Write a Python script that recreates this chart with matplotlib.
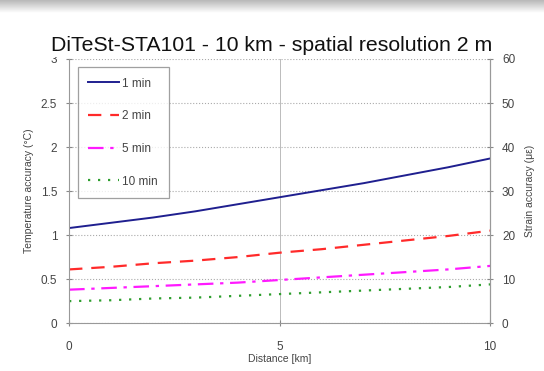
import numpy as np
import matplotlib.pyplot as plt

plt.rcParams['font.family'] = ['Liberation Sans', 'DejaVu Sans']

# Distance along the fibre (km)
distance = [0, 1, 2, 3, 4, 5, 6, 7, 8, 9, 10]

# Temperature accuracy (deg C) for each measuring time
acc_1min = [1.08, 1.14, 1.20, 1.27, 1.35, 1.43, 1.51, 1.59, 1.68, 1.77, 1.87]
acc_2min = [0.61, 0.64, 0.68, 0.71, 0.75, 0.80, 0.84, 0.89, 0.94, 0.99, 1.05]
acc_5min = [0.38, 0.40, 0.42, 0.44, 0.46, 0.49, 0.52, 0.55, 0.58, 0.61, 0.65]
acc_10min = [0.25, 0.26, 0.28, 0.29, 0.31, 0.33, 0.35, 0.37, 0.39, 0.41, 0.44]

labels = ['1 min', '2 min', '5 min', '10 min']

fig = plt.figure(figsize=(5.44, 3.71), dpi=100)

# grey band at the top of the picture
grad = np.linspace(0.72, 1.0, 50).reshape(-1, 1)
band = fig.add_axes([0, 0.965, 1, 0.035])
band.imshow(grad, aspect='auto', cmap='gray', vmin=0, vmax=1)
band.axis('off')

ax = fig.add_axes([0.127, 0.129, 0.774, 0.712])
ax.plot(distance, acc_1min, color='#1f1f8f', lw=1.4, label=labels[0])
ax.plot(distance, acc_2min, color='#ff2a2a', lw=1.6, ls=(0, (6, 4)), label=labels[1])
ax.plot(distance, acc_5min, color='#ff1aff', lw=1.6, ls=(0, (7, 3, 1.5, 3)), label=labels[2])
ax.plot(distance, acc_10min, color='#2e9e2e', lw=1.6, ls=(0, (1, 3.5)), label=labels[3])

ax.set_xlim(0, 10)
ax.set_ylim(0, 3)
ax.set_xticks([0, 5, 10])
ax.set_yticks([0, 0.5, 1, 1.5, 2, 2.5, 3])
ax.set_yticklabels(['0', '0.5', '1', '1.5', '2', '2.5', '3'])
ax.grid(axis='y', color='#aaaaaa', ls=':', lw=0.8)
ax.grid(axis='x', color='#bbbbbb', ls='-', lw=0.7)
ax.spines['top'].set_visible(False)
for s in ['left', 'bottom', 'right']:
    ax.spines[s].set_color('#999999')
ax.tick_params(direction='inout', length=5, color='#888888', labelsize=8.5, labelcolor='#444444')
ax.tick_params(axis='x', pad=10)
ax.tick_params(axis='y', pad=6)
ax.set_xlabel('Distance [km]', fontsize=7.5, color='#444444', labelpad=1)
ax.set_ylabel('Temperature accuracy (°C)', fontsize=7.5, color='#444444', labelpad=5)

ax2 = ax.twinx()
ax2.set_ylim(0, 60)
ax2.set_yticks([0, 10, 20, 30, 40, 50, 60])
for s in ['top', 'left', 'bottom']:
    ax2.spines[s].set_visible(False)
ax2.spines['right'].set_color('#999999')
ax2.tick_params(direction='inout', length=5, color='#888888', labelsize=8.5,
                labelcolor='#444444', pad=6)
ax2.set_ylabel('Strain accuracy (με)', fontsize=7.5, color='#444444', labelpad=7)

leg = ax.legend(loc='upper left', bbox_to_anchor=(0.02, 0.97), fontsize=8.5,
                frameon=True, fancybox=False, edgecolor='#888888',
                handlelength=2.6, handletextpad=0.3, labelspacing=1.75,
                borderpad=0.9, borderaxespad=0)
leg.get_frame().set_linewidth(0.9)
for t in leg.get_texts():
    t.set_color('#444444')

fig.text(0.5, 0.862, 'DiTeSt-STA101 - 10 km - spatial resolution 2 m',
         ha='center', fontsize=15.3, color='#111111', zorder=10,
         bbox=dict(facecolor='white', edgecolor='none', pad=1.5))

fig.savefig('out.png', dpi=100)
